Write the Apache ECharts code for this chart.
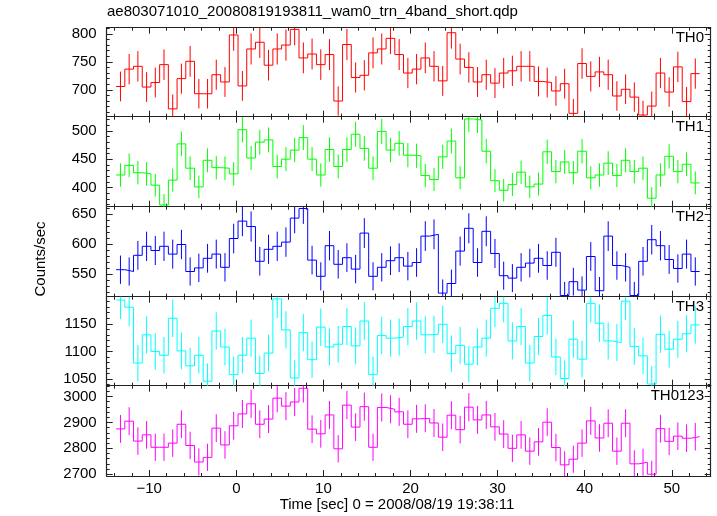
<!DOCTYPE html>
<html><head><meta charset="utf-8">
<script src="https://cdn.jsdelivr.net/npm/echarts@6/dist/echarts.min.js"></script>
<style>html,body{margin:0;padding:0;background:#fff}#c{width:717px;height:516px}</style>
</head><body><div id="c"></div>
<script>
// ---- data (1 s bins, count rates in counts/sec) ----
const binStart = -13.8;
const binWidth = 1;
const TH0 = [706,737,742,705,713,745,666,720,751,693,
             693,727,714,798,707,773,785,744,773,780,
             808,757,764,745,763,680,781,722,726,766,
             773,792,763,730,737,757,742,716,802,755,
             740,714,727,712,730,734,742,742,715,713,
             698,711,658,747,724,732,727,689,701,687,
             655,671,730,696,741,679,729];
const TH1 = [422,439,426,424,404,369,413,477,434,401,
             448,435,434,424,502,452,480,484,437,450,
             466,488,450,422,467,437,467,494,469,434,
             499,466,478,457,456,421,414,454,482,417,
             521,519,464,412,395,405,427,401,406,463,
             428,445,426,464,417,422,443,421,448,428,
             434,381,422,455,428,441,408];
const TH2 = [557,554,581,596,589,596,583,599,554,560,
             576,583,561,609,638,629,571,591,596,603,
             643,659,573,546,597,566,577,558,618,546,
             561,572,577,563,569,613,616,518,534,588,
             626,569,621,584,547,543,561,568,576,564,
             586,514,537,523,579,522,613,564,561,514,
             571,607,597,574,559,583,554];
const TH3 = [1193,1180,1079,1130,1100,1093,1160,1101,1074,1093,
             1046,1137,1108,1058,1093,1124,1060,1097,1195,1139,
             1052,1134,1085,1144,1108,1113,1145,1110,1155,1058,
             1129,1124,1126,1145,1155,1130,1131,1149,1096,1111,
             1077,1108,1124,1178,1187,1119,1145,1079,1127,1165,
             1090,1051,1122,1086,1187,1151,1119,1116,1191,1109,
             1092,1041,1131,1104,1122,1132,1148];
const TH0123 = [2875,2905,2828,2852,2804,2804,2820,2893,2811,2747,
                2765,2878,2813,2887,2933,2972,2893,2913,2994,2963,
                2979,3032,2874,2856,2929,2798,2967,2882,2961,2804,
                2958,2951,2941,2893,2914,2916,2898,2843,2928,2872,
                2959,2910,2929,2883,2855,2800,2852,2789,2825,2901,
                2803,2736,2758,2820,2906,2840,2897,2789,2897,2740,
                2746,2700,2876,2827,2847,2839,2845];
const panelNames = ['TH0','TH1','TH2','TH3','TH0123'];
const xMajorTicks = [-10,0,10,20,30,40,50];
const yMajorTicks = [[700,750,800],[400,450,500],[550,600,650],[1050,1100,1150],[2700,2800,2900,3000]];
const yMinorStep = [10,10,10,10,20];
const yRanges = [[652,811],[366,525],[512,662],[1038,1199],[2693,3042]];
const xRange = [-14.88,54.47];
const xMinorStep = 2;
const titleText = 'ae803071010_20080819193811_wam0_trn_4band_short.qdp';
const xTitle = 'Time [sec] 0 = 2008/08/19 19:38:11';
const yTitle = 'Counts/sec';

// ---- styling / layout ----
const series = [TH0, TH1, TH2, TH3, TH0123];
const colors = ['#ff0000','#00ff00','#0000ff','#00ffff','#ff00ff'];
const FONT = 'Liberation Sans, Arial, Helvetica, sans-serif';
const gridTops = [27.7,116.7,206.7,296.7,385.7];
const gridHeights = [89,90,90,89,90.3];
const gridLeft = 106.7, gridRight = 6.3;
const frameColor = '#222';

function ticksBetween(lo, hi, step){
  const out = [];
  for (let v = Math.ceil(lo/step)*step; v <= hi; v += step) out.push(v);
  return out;
}
const fmt = v => (v < 0 ? '\u2212' + Math.abs(v) : String(v));

const grids = [], xAxes = [], yAxes = [], allSeries = [], graphics = [];
for (let k = 0; k < 5; k++){
  grids.push({left: gridLeft, right: gridRight, top: gridTops[k], height: gridHeights[k], containLabel:false});
  const xMinor = ticksBetween(xRange[0], xRange[1], xMinorStep);
  const yMinor = ticksBetween(yRanges[k][0], yRanges[k][1], yMinorStep[k]);
  const baseX = {type:'value', gridIndex:k, min:xRange[0], max:xRange[1], splitLine:{show:false}};
  const baseY = {type:'value', gridIndex:k, min:yRanges[k][0], max:yRanges[k][1], splitLine:{show:false}};
  ['bottom','top'].forEach(pos => {
    xAxes.push(Object.assign({}, baseX, {position:pos,
      axisLine:{show:true, onZero:false, lineStyle:{color:frameColor, width:1.2}},
      axisTick:{show:true, inside:true, length:6, customValues:xMajorTicks, lineStyle:{color:frameColor}},
      axisLabel:{show: pos==='bottom' && k===4, customValues:xMajorTicks, formatter:fmt, color:'#000', fontSize:15, fontFamily:FONT, margin:5}}));
    xAxes.push(Object.assign({}, baseX, {position:pos,
      axisLine:{show:false, onZero:false},
      axisTick:{show:true, inside:true, length:3, customValues:xMinor, lineStyle:{color:frameColor}},
      axisLabel:{show:false}}));
  });
  ['left','right'].forEach(pos => {
    yAxes.push(Object.assign({}, baseY, {position:pos,
      axisLine:{show:true, onZero:false, lineStyle:{color:frameColor, width:1.2}},
      axisTick:{show:true, inside:true, length:6, customValues:yMajorTicks[k], lineStyle:{color:frameColor}},
      axisLabel:{show: pos==='left', customValues:yMajorTicks[k], formatter:fmt, color:'#000', fontSize:15, fontFamily:FONT, margin:10}}));
    yAxes.push(Object.assign({}, baseY, {position:pos,
      axisLine:{show:false, onZero:false},
      axisTick:{show:true, inside:true, length:3, customValues:yMinor, lineStyle:{color:frameColor}},
      axisLabel:{show:false}}));
  });
  const vals = series[k];
  const stepData = vals.map((v,i) => [binStart + i*binWidth, v]);
  stepData.push([binStart + vals.length*binWidth, vals[vals.length-1]]);
  // Poisson error of the rate in each bin
  const errData = vals.map((v,i) => [binStart + (i+0.5)*binWidth, v, Math.sqrt(v*binWidth)/binWidth]);
  const col = colors[k];
  allSeries.push({type:'line', xAxisIndex:4*k, yAxisIndex:4*k, data:stepData, step:'end',
    symbol:'none', color:col, lineStyle:{color:col, width:1}, clip:true, silent:true, animation:false, z:3});
  allSeries.push({type:'custom', xAxisIndex:4*k, yAxisIndex:4*k, data:errData, clip:true, silent:true, animation:false,
    encode:{x:0, y:1}, z:2,
    renderItem:function(params, api){
      const x = api.value(0), y = api.value(1), e = api.value(2);
      const p1 = api.coord([x, y-e]), p2 = api.coord([x, y+e]);
      return {type:'line', shape:{x1:p1[0], y1:p1[1], x2:p2[0], y2:p2[1]}, style:{stroke:col, lineWidth:1}};
    }});
  graphics.push({type:'text', right: 717-704, top: gridTops[k]+3,
    style:{text:panelNames[k], fill:'#000', font:'15px ' + FONT, textAlign:'right'}});
}
graphics.push({type:'text', left:107, top:4, style:{text:titleText, fill:'#000', font:'15px ' + FONT}});
graphics.push({type:'text', x:397, y:505, style:{text:xTitle, fill:'#000', font:'15px ' + FONT, textAlign:'center', textVerticalAlign:'middle'}});
graphics.push({type:'text', x:41, y:259, rotation:Math.PI/2, style:{text:yTitle, fill:'#000', font:'15px ' + FONT, textAlign:'center', textVerticalAlign:'middle'}});

const chart = echarts.init(document.getElementById('c'), null, {renderer:'canvas'});
chart.setOption({
  animation:false,
  backgroundColor:'#fff',
  grid:grids, xAxis:xAxes, yAxis:yAxes, series:allSeries, graphic:graphics
});
</script></body></html>
